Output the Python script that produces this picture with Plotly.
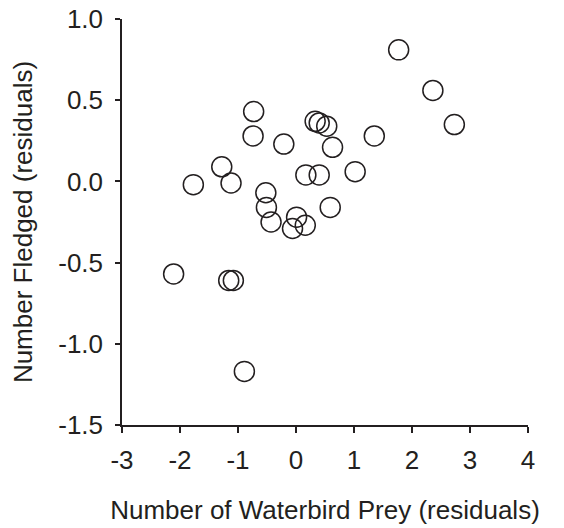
import plotly.graph_objects as go

prey_resid = [1.77, 2.36, 2.73, -0.73, -0.74, -0.21, 0.33, 0.40, 0.53, 0.63,
              1.35, -1.28, -1.77, -1.12, 0.17, 0.40, 1.02, -0.52, -0.51, -0.43,
              0.59, 0.01, 0.16, -0.06, -2.11, -1.16, -1.08, -0.89]
fledged_resid = [0.81, 0.56, 0.35, 0.43, 0.28, 0.23, 0.37, 0.36, 0.34, 0.21,
                 0.28, 0.09, -0.02, -0.01, 0.04, 0.04, 0.06, -0.07, -0.16, -0.25,
                 -0.16, -0.22, -0.27, -0.29, -0.57, -0.61, -0.61, -1.17]

x_ticks = [-3, -2, -1, 0, 1, 2, 3, 4]
y_ticks = [-1.5, -1.0, -0.5, 0.0, 0.5, 1.0]
y_tick_labels = ["-1.5", "-1.0", "-0.5", "0.0", "0.5", "1.0"]

ink = "#231f20"
font = dict(family="Liberation Sans, Arial, sans-serif", size=26, color=ink)

fig = go.Figure(go.Scatter(
    x=prey_resid, y=fledged_resid, mode="markers",
    marker=dict(symbol="circle-open", size=20, color=ink, line=dict(width=1.5, color=ink)),
    showlegend=False,
))

fig.update_layout(
    width=564, height=528,
    margin=dict(l=122, r=36, t=19, b=103),
    paper_bgcolor="white", plot_bgcolor="white",
    font=font,
)
fig.update_xaxes(
    range=[-3, 4], tickvals=x_ticks, ticktext=[str(v) for v in x_ticks],
    showline=True, linecolor=ink, linewidth=1.5, ticks="outside", ticklen=6,
    tickcolor=ink, tickwidth=1.5, showgrid=False, zeroline=False,
    ticklabelstandoff=5, automargin=False,
    title=dict(text="Number of Waterbird Prey (residuals)", standoff=27, font=font),
)
fig.update_yaxes(
    range=[-1.5, 1.0], tickvals=y_ticks, ticktext=y_tick_labels,
    showline=True, linecolor=ink, linewidth=1.5, ticks="outside", ticklen=5,
    tickcolor=ink, tickwidth=1.5, showgrid=False, zeroline=False,
    ticklabelstandoff=7, automargin=False,
    title=dict(text="Number Fledged (residuals)", standoff=18, font=font),
)

fig.write_html("out.html", config={"displayModeBar": False},
               post_script="document.body.style.margin='0px';")
